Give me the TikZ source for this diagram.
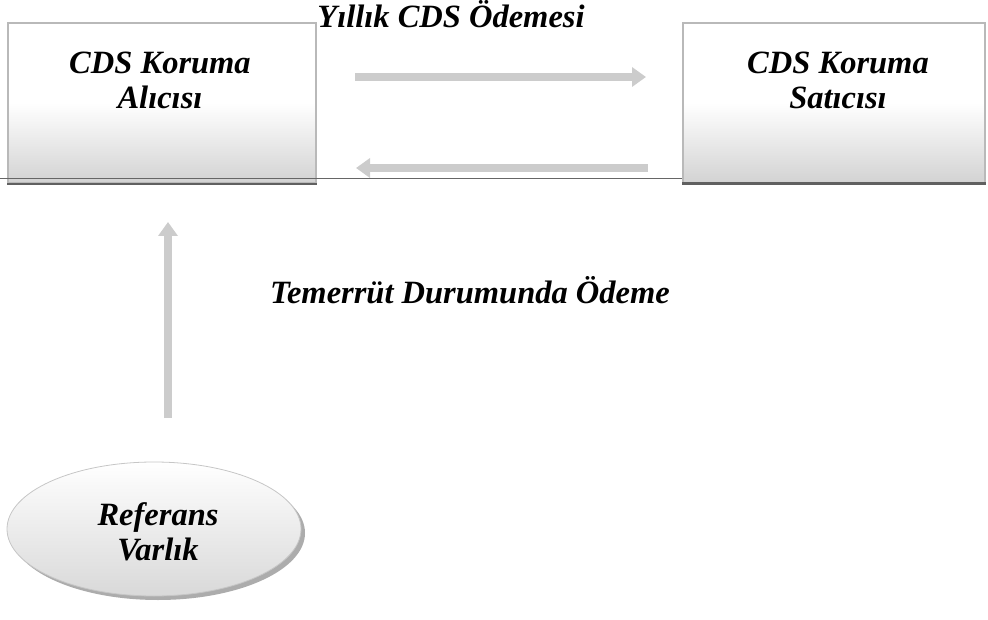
\documentclass[tikz,border=0pt]{standalone}
\usepackage{fontspec}
\setmainfont{Liberation Serif}
\usetikzlibrary{shapes.geometric,arrows.meta}
\tikzset{
  bigtxt/.style={font=\fontsize{32.5}{35}\selectfont\bfseries\itshape, align=center, inner sep=0pt},
  partybox/.style={draw=gray!55, line width=1.2pt, top color=white, bottom color=gray!35, middle color=white, shading angle=0, minimum height=160pt, inner sep=0pt},
  flow/.style={draw=gray!40, line width=8pt, -{Triangle[length=14pt,width=19pt]}},
  baseline/.style={draw=gray!80!black, line width=1pt}
}
\begin{document}
\begin{tikzpicture}[x=1pt,y=-1pt]
\useasboundingbox (0,0) rectangle (988,620);
% boxes
\node[partybox, minimum width=308pt] (buyer) at (162,103) {};
\node[partybox, minimum width=302pt] (seller) at (834,103) {};
\draw[gray!75!black, line width=2pt] (buyer.south west) -- (buyer.south east);
\draw[gray!75!black, line width=2.5pt] (seller.south west) -- (seller.south east);
\node[bigtxt] (buyertxt) at (160,80) {CDS Koruma\\Alıcısı};
\node[bigtxt] (sellertxt) at (838,80) {CDS Koruma\\Satıcısı};
% horizontal baseline
\coordinate (l0) at (0,179);
\draw[baseline] (l0) -- (seller.west |- l0);
% ellipse with shadow
\node[ellipse, fill=gray!65, minimum width=294pt, minimum height=134pt, inner sep=0pt] (refshadow) at (158,533) {};
\node[ellipse, draw=gray!45, line width=0.8pt, top color=white, bottom color=gray!30, minimum width=294pt, minimum height=134pt, inner sep=0pt] (ref) at (154,529) {};
\node[bigtxt] (reftxt) at (158,532) {Referans\\Varlık};
% arrows
\coordinate (a1s) at (355,77);
\coordinate (a1e) at (646,77);
\coordinate (a2s) at (648,168);
\coordinate (a2e) at (356,168);
\coordinate (a3s) at (168,418);
\coordinate (a3e) at (168,222);
\draw[flow] (a1s) -- (a1e);
\draw[flow] (a2s) -- (a2e);
\draw[flow] (a3s) -- (a3e);
% labels
\node[bigtxt] (paylbl) at (451,14) {Yıllık CDS Ödemesi};
\node[bigtxt] (deflbl) at (470,290) {Temerrüt Durumunda Ödeme};
\end{tikzpicture}
\end{document}
